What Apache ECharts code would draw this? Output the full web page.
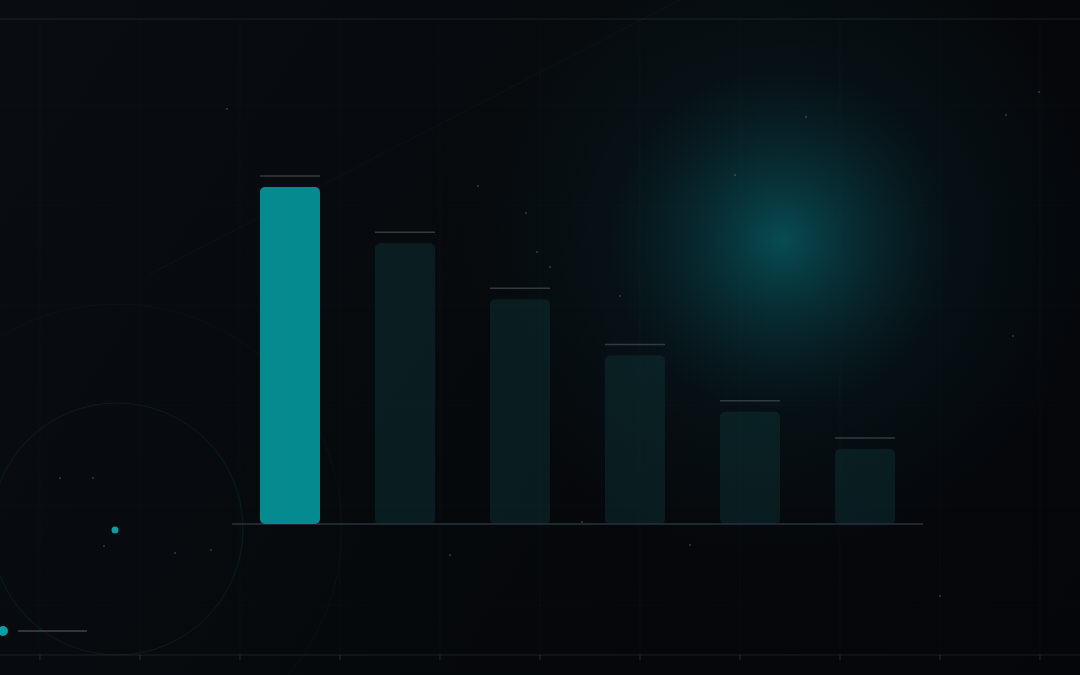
<!DOCTYPE html>
<html>
<head>
<meta charset="utf-8">
<script src="https://cdn.jsdelivr.net/npm/echarts@6/dist/echarts.min.js"></script>
<style>
  html, body { margin: 0; padding: 0; background: #05070a; }
  #main { width: 1080px; height: 675px; }
</style>
</head>
<body>
<div id="main"></div>
<script>
// 数据
var categories = ['A', 'B', 'C', 'D', 'E', 'F'];
var values = [9, 7.5, 6, 4.5, 3, 2];
var highlightIndex = 0;

var chart = echarts.init(document.getElementById('main'));

// 背景装饰
function buildBackground() {
  var els = [];
  // 底色
  els.push({
    type: 'rect', z: -10, silent: true,
    shape: { x: 0, y: 0, width: 1080, height: 675 },
    style: {
      fill: new echarts.graphic.LinearGradient(0, 0, 1, 1, [
        { offset: 0, color: '#090d12' },
        { offset: 0.5, color: '#06090c' },
        { offset: 1, color: '#04060a' }
      ])
    }
  });
  // 光晕 (外层大范围)
  els.push({
    type: 'circle', z: -9, silent: true,
    shape: { cx: 782, cy: 240, r: 320 },
    style: {
      fill: new echarts.graphic.RadialGradient(0.5, 0.5, 0.5, [
        { offset: 0, color: 'rgba(10,60,68,0.45)' },
        { offset: 0.5, color: 'rgba(10,45,52,0.25)' },
        { offset: 1, color: 'rgba(10,35,42,0)' }
      ])
    }
  });
  // 光晕 (中心)
  els.push({
    type: 'circle', z: -9, silent: true,
    shape: { cx: 782, cy: 240, r: 170 },
    style: {
      fill: new echarts.graphic.RadialGradient(0.5, 0.5, 0.5, [
        { offset: 0, color: 'rgba(8,95,102,0.7)' },
        { offset: 0.5, color: 'rgba(8,70,78,0.35)' },
        { offset: 1, color: 'rgba(8,50,58,0)' }
      ])
    }
  });
  // 竖向网格
  for (var x = 40; x <= 1040; x += 100) {
    els.push({
      type: 'line', z: -8, silent: true,
      shape: { x1: x, y1: 20, x2: x, y2: 655 },
      style: { stroke: 'rgba(60,80,90,0.08)', lineWidth: 1 }
    });
    // 底部刻度
    els.push({
      type: 'line', z: -8, silent: true,
      shape: { x1: x, y1: 655, x2: x, y2: 660 },
      style: { stroke: 'rgba(80,95,105,0.45)', lineWidth: 1 }
    });
  }
  // 横向网格
  for (var y = 105; y <= 605; y += 100) {
    els.push({
      type: 'line', z: -8, silent: true,
      shape: { x1: 0, y1: y, x2: 1080, y2: y },
      style: { stroke: 'rgba(60,80,90,0.06)', lineWidth: 1 }
    });
  }
  // 顶部 / 底部线
  els.push({
    type: 'line', z: -7, silent: true,
    shape: { x1: 0, y1: 19, x2: 1080, y2: 19 },
    style: { stroke: 'rgba(70,88,98,0.3)', lineWidth: 1 }
  });
  els.push({
    type: 'line', z: -7, silent: true,
    shape: { x1: 0, y1: 655, x2: 1080, y2: 655 },
    style: { stroke: 'rgba(70,88,98,0.3)', lineWidth: 1 }
  });
  // 斜线
  els.push({
    type: 'line', z: -7, silent: true,
    shape: { x1: 150, y1: 274, x2: 680, y2: 0 },
    style: { stroke: 'rgba(60,90,100,0.1)', lineWidth: 1 }
  });
  // 圆
  els.push({
    type: 'circle', z: -7, silent: true,
    shape: { cx: 117, cy: 529, r: 126 },
    style: { fill: 'none', stroke: 'rgba(20,90,90,0.22)', lineWidth: 1 }
  });
  els.push({
    type: 'circle', z: -7, silent: true,
    shape: { cx: 117, cy: 529, r: 225 },
    style: { fill: 'none', stroke: 'rgba(40,70,80,0.1)', lineWidth: 1 }
  });
  // 青色点
  els.push({
    type: 'circle', z: -6, silent: true,
    shape: { cx: 115, cy: 530, r: 3.5 },
    style: { fill: '#0a9ea3' }
  });
  els.push({
    type: 'circle', z: -6, silent: true,
    shape: { cx: 3, cy: 631, r: 5 },
    style: { fill: '#0a9ea3' }
  });
  els.push({
    type: 'line', z: -6, silent: true,
    shape: { x1: 18, y1: 631, x2: 87, y2: 631 },
    style: { stroke: 'rgba(110,120,125,0.55)', lineWidth: 1.5 }
  });
  // 小点
  var dots = [[60, 478], [104, 546], [175, 553], [211, 550], [93, 478], [227, 109], [478, 186], [526, 213], [537, 252], [550, 267],
    [582, 522], [620, 296], [735, 175], [806, 117], [1039, 92], [1006, 115], [1013, 336], [940, 596], [690, 545], [450, 555]];
  dots.forEach(function (d) {
    els.push({
      type: 'circle', z: -6, silent: true,
      shape: { cx: d[0], cy: d[1], r: 1 },
      style: { fill: 'rgba(120,140,150,0.4)' }
    });
  });
  return els;
}

var option = {
  backgroundColor: 'transparent',
  animation: false,
  graphic: buildBackground(),
  grid: { left: 232.5, right: 157.5, top: 187, bottom: 151 },
  xAxis: {
    type: 'category',
    data: categories,
    axisLine: { show: true, lineStyle: { color: '#2b3338', width: 1.5 } },
    axisTick: { show: false },
    axisLabel: { show: false },
    splitLine: { show: false }
  },
  yAxis: {
    type: 'value',
    min: 0,
    max: 9,
    show: false,
    splitLine: { show: false }
  },
  series: [
    {
      type: 'bar',
      data: values.map(function (v, i) {
        return {
          value: v,
          itemStyle: {
            color: i === highlightIndex ? '#048a8f' : 'rgba(16,60,62,0.38)'
          }
        };
      }),
      barWidth: 60,
      itemStyle: { borderRadius: 5 }
    },
    {
      // 顶部标记线
      type: 'scatter',
      data: values,
      symbol: 'rect',
      symbolSize: [60, 1.5],
      symbolOffset: [0, -11],
      itemStyle: { color: 'rgba(90,100,106,0.65)' },
      z: 3
    }
  ]
};

chart.setOption(option);
</script>
</body>
</html>
